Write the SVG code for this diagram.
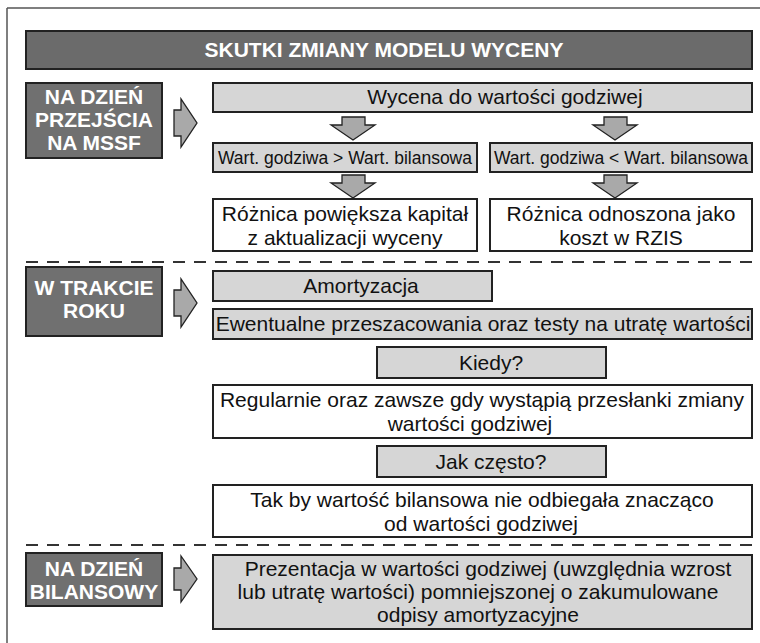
<svg xmlns="http://www.w3.org/2000/svg" width="760" height="643" viewBox="0 0 760 643">
<style>
.frame{stroke:#555;stroke-width:1.5;fill:none}
.title{fill:#6b6b6b;stroke:#222;stroke-width:2}
.lab{fill:#707070;stroke:#222;stroke-width:2}
.lt{fill:#d6d6d6;stroke:#222;stroke-width:2}
.wh{fill:#fff;stroke:#222;stroke-width:2}
.arr{fill:#a9a9a9;stroke:#222;stroke-width:1.3;stroke-linejoin:miter}
.dash{stroke:#333;stroke-width:2;stroke-dasharray:12 9;fill:none}
.tw{font-family:"Liberation Sans",Arial,sans-serif;font-weight:bold;fill:#fff;text-anchor:middle}
.tb{font-family:"Liberation Sans",Arial,sans-serif;fill:#111;text-anchor:middle;font-size:21px}
.tn{font-family:"Liberation Sans",Arial,sans-serif;fill:#111;text-anchor:middle;font-size:17.5px}
</style>
<line class="frame" x1="7" y1="8" x2="760" y2="8"/>
<line class="frame" x1="7" y1="8" x2="7" y2="643"/>

<g id="title">
<rect class="title" x="26" y="31" width="726" height="38"/>
<text class="tw" x="384" y="57" font-size="21">SKUTKI ZMIANY MODELU WYCENY</text>
</g>

<g id="label1">
<rect class="lab" x="26" y="83" width="136" height="75"/>
<text class="tw" x="94" y="104" font-size="21">NA DZIEŃ</text>
<text class="tw" x="94" y="127" font-size="21">PRZEJŚCIA</text>
<text class="tw" x="94" y="150" font-size="21">NA MSSF</text>
</g>
<g id="wycena">
<rect class="lt" x="213" y="83" width="539" height="29"/>
<text class="tb" x="505" y="104">Wycena do wartości godziwej</text>
</g>
<g id="wieksza">
<rect class="lt" x="213" y="143" width="264" height="29"/>
<text class="tn" x="345" y="164">Wart. godziwa &gt; Wart. bilansowa</text>
</g>
<g id="mniejsza">
<rect class="lt" x="490" y="143" width="262" height="29"/>
<text class="tn" x="621" y="164">Wart. godziwa &lt; Wart. bilansowa</text>
</g>
<g id="kapital">
<rect class="wh" x="213" y="199" width="264" height="52"/>
<text class="tb" x="345" y="221">Różnica powiększa kapitał</text>
<text class="tb" x="345" y="245">z aktualizacji wyceny</text>
</g>
<g id="koszt">
<rect class="wh" x="490" y="199" width="262" height="52"/>
<text class="tb" x="621" y="221">Różnica odnoszona jako</text>
<text class="tb" x="621" y="245">koszt w RZIS</text>
</g>

<g id="label2">
<rect class="lab" x="26" y="267" width="136" height="69"/>
<text class="tw" x="94" y="295" font-size="21">W TRAKCIE</text>
<text class="tw" x="94" y="318" font-size="21">ROKU</text>
</g>
<g id="amortyzacja">
<rect class="lt" x="213" y="271" width="279" height="30"/>
<text class="tb" x="361" y="293">Amortyzacja</text>
</g>
<g id="ewentualne">
<rect class="lt" x="213" y="309" width="539" height="30"/>
<text class="tb" x="483" y="331">Ewentualne przeszacowania oraz testy na utratę wartości</text>
</g>
<g id="kiedy">
<rect class="lt" x="377" y="347" width="229" height="31"/>
<text class="tb" x="491" y="370">Kiedy?</text>
</g>
<g id="regularnie">
<rect class="wh" x="213" y="385" width="539" height="53"/>
<text class="tb" x="482" y="407">Regularnie oraz zawsze gdy wystąpią przesłanki zmiany</text>
<text class="tb" x="470" y="431">wartości godziwej</text>
</g>
<g id="jakczesto">
<rect class="lt" x="377" y="446" width="229" height="31"/>
<text class="tb" x="491" y="469">Jak często?</text>
</g>
<g id="takby">
<rect class="wh" x="213" y="485" width="539" height="52"/>
<text class="tb" x="482" y="507">Tak by wartość bilansowa nie odbiegała znacząco</text>
<text class="tb" x="481" y="531">od wartości godziwej</text>
</g>

<g id="label3">
<rect class="lab" x="26" y="553" width="136" height="53"/>
<text class="tw" x="94" y="576" font-size="21">NA DZIEŃ</text>
<text class="tw" x="94" y="599" font-size="21">BILANSOWY</text>
</g>
<g id="prezentacja">
<rect class="lt" x="213" y="555" width="539" height="74"/>
<text class="tb" x="488" y="576">Prezentacja w wartości godziwej (uwzględnia wzrost</text>
<text class="tb" x="478" y="599">lub utratę wartości) pomniejszonej o zakumulowane</text>
<text class="tb" x="478" y="622">odpisy amortyzacyjne</text>
</g>

<g id="connectors">
<line class="dash" x1="26" y1="262" x2="752" y2="262"/>
<line class="dash" x1="26" y1="545" x2="752" y2="545"/>
<polygon class="arr" points="174,110 181,110 181,99 197,123 181,147 181,136 174,136"/>
<polygon class="arr" points="174,290 181,290 181,279 197,303 181,327 181,316 174,316"/>
<polygon class="arr" points="174,568 181,568 181,556 197,579 181,602 181,590 174,590"/>
<polygon class="arr" points="342,117 365,117 365,125 375,125 353,140 331,125 342,125"/>
<polygon class="arr" points="342,175 365,175 365,183 375,183 353,198 331,183 342,183"/>
<polygon class="arr" points="604,117 627,117 627,125 637,125 615,140 593,125 604,125"/>
<polygon class="arr" points="604,175 627,175 627,183 637,183 615,198 593,183 604,183"/>
</g>
</svg>
